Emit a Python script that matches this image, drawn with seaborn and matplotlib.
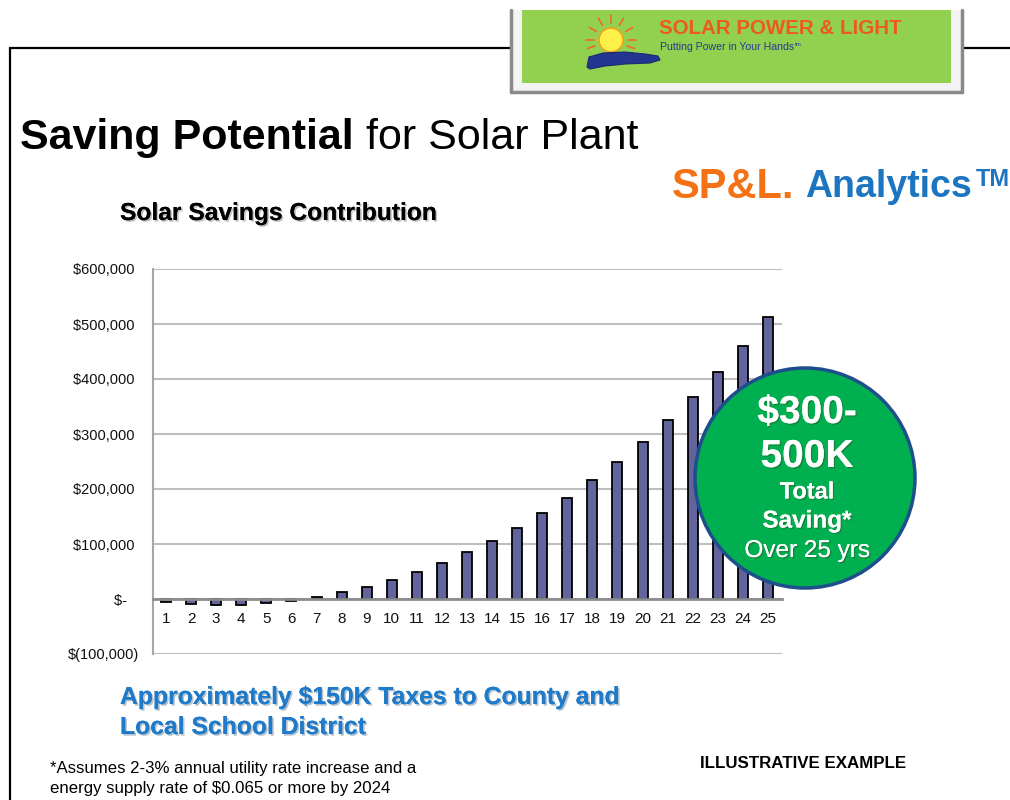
import numpy as np
import pandas as pd
import matplotlib
matplotlib.use("Agg")
import matplotlib.pyplot as plt
import matplotlib.patheffects as pe
from matplotlib.patches import Rectangle, Circle, Polygon
from matplotlib.lines import Line2D
import seaborn as sns

# ---------------- data ----------------
years = [str(i) for i in range(1, 26)]
savings = [-5000, -9000, -10000, -10000, -7000, -3000, 3000, 12000, 22000, 35000,
           50000, 65000, 85000, 105000, 130000, 156000, 184000, 216000, 250000, 286000,
           325000, 368000, 413000, 460000, 512000]
ytick_values = [-100000, 0, 100000, 200000, 300000, 400000, 500000, 600000]
ytick_labels = ["$(100,000)", "$-   ", "$100,000 ", "$200,000 ", "$300,000 ",
                "$400,000 ", "$500,000 ", "$600,000 "]

title_bold = "Saving Potential"
title_regular = " for Solar Plant"
chart_title = "Solar Savings Contribution"
badge_lines = ["$300-", "500K", "Total", "Saving*", "Over 25 yrs"]
tax_lines = ["Approximately $150K Taxes to County and", "Local School District"]
foot_lines = ["*Assumes 2-3% annual utility rate increase and a",
              "energy supply rate of $0.065 or more by 2024"]

# ---------------- style ----------------
sns.set_style("white")
plt.rcParams["font.family"] = ["Liberation Sans", "DejaVu Sans"]

W, H = 1010, 800
fig = plt.figure(figsize=(W / 100, H / 100), dpi=100)
fig.patch.set_facecolor("white")


def fx(x):
    return x / W


def fy(y):
    return 1 - y / H


# ---------------- axes ----------------
ax = fig.add_axes([fx(153), fy(654), (782 - 153) / W, (654 - 269) / H])
df = pd.DataFrame({"year": years, "saving": savings})
sns.barplot(data=df, x="year", y="saving", color="#62649c", saturation=1,
            edgecolor="black", linewidth=1.3, width=0.4, ax=ax, zorder=3)
ax.set_ylim(-100000, 600000)
ax.set_xlim(-0.52, 24.56)
ax.set_yticks(ytick_values)
ax.set_yticklabels(ytick_labels, fontsize=10.5, color="#111111")
ax.set_xlabel("")
ax.set_ylabel("")
ax.grid(axis="y", color="#BEBEBE", linewidth=1.5, zorder=0)
ax.grid(axis="x", visible=False)
ax.set_axisbelow(True)
for s in ["top", "right"]:
    ax.spines[s].set_visible(False)
ax.spines["left"].set_color("#A6A6A6")
ax.spines["left"].set_linewidth(1.5)
ax.spines["bottom"].set_position(("data", 0))
ax.spines["bottom"].set_color("#8C8C8C")
ax.spines["bottom"].set_linewidth(2)
ax.spines["bottom"].set_zorder(4)
ax.tick_params(axis="x", length=0, pad=9.5, labelsize=11, labelcolor="#111111")
ax.tick_params(axis="y", length=0, pad=10)
ax.set_facecolor("white")

# ---------------- slide frame ----------------
fig.add_artist(Line2D([fx(10), fx(512)], [fy(48), fy(48)], color="black", lw=1.6))
fig.add_artist(Line2D([fx(960), fx(1010)], [fy(48), fy(48)], color="black", lw=1.6))
fig.add_artist(Line2D([fx(10), fx(10)], [fy(48), fy(800)], color="black", lw=1.6))

# ---------------- logo box ----------------
fig.add_artist(Rectangle((fx(511), fy(92)), (962 - 511) / W, (92 - 10) / H,
                         facecolor="#F3F3F3", edgecolor="none", zorder=2))
for (x0, y0, x1, y1) in [(511, 10, 511, 92), (962, 10, 962, 92), (511, 92, 962, 92)]:
    fig.add_artist(Line2D([fx(x0), fx(x1)], [fy(y0), fy(y1)], color="#8A8A8A", lw=2.5, zorder=3))
fig.add_artist(Rectangle((fx(522), fy(83)), (951 - 522) / W, (83 - 10) / H,
                         facecolor="#92D050", edgecolor="none", zorder=3))
# sun
for ang in np.deg2rad([90, 120, 150, 180, 30, 60, 0, -20, 200]):
    r0, r1 = 17, 25
    fig.add_artist(Line2D([fx(611 + r0 * np.cos(ang)), fx(611 + r1 * np.cos(ang))],
                          [fy(40 - r0 * np.sin(ang)), fy(40 - r1 * np.sin(ang))],
                          color="#F26A21", lw=1.2, zorder=4))
fig.add_artist(Circle((6.11, 8.0 - 0.40), 0.12, transform=fig.dpi_scale_trans,
                      facecolor="#FFF04A", edgecolor="#F2A21E", lw=1.2, zorder=4))
hand = [(587, 67), (589, 57), (603, 53), (625, 52), (645, 54), (658, 56), (660, 60),
        (650, 63), (625, 64), (605, 66), (590, 69)]
fig.add_artist(Polygon([(fx(x), fy(y)) for x, y in hand], closed=True,
                       facecolor="#24358F", edgecolor="#1A2A70", lw=0.8, zorder=5))
fig.text(fx(659), fy(29), "SOLAR POWER & LIGHT", fontsize=14.8, fontweight="bold",
         color="#EE5A1E", ha="left", va="center", zorder=6)

fig.canvas.draw()
renderer = fig.canvas.get_renderer()

tag = fig.text(fx(660), fy(47), "Putting Power in Your Hands", fontsize=7.6,
               color="#2B3A8C", ha="left", va="center", zorder=6)
bb = tag.get_window_extent(renderer)
fig.text(bb.x1 / W + 1 / W, fy(44), "tm", fontsize=4.5, color="#2B3A8C",
         ha="left", va="center", zorder=6)

# ---------------- titles ----------------
t1 = fig.text(fx(20), fy(138), title_bold, fontsize=31, fontweight="bold",
              color="black", ha="left", va="center")
bb = t1.get_window_extent(renderer)
fig.text(bb.x1 / W, fy(138), title_regular, fontsize=31, color="black",
         ha="left", va="center")

shadow = [pe.withSimplePatchShadow(offset=(1.2, -1.2), shadow_rgbFace="#9a9a9a", alpha=0.6),
          pe.Normal()]
fig.text(fx(120), fy(213), chart_title, fontsize=17.7, fontweight="bold",
         color="black", ha="left", va="center", path_effects=shadow)

s1 = fig.text(fx(672), fy(187), "SP&L.", fontsize=30, fontweight="bold",
              color="#F47216", ha="left", va="center")
bb = s1.get_window_extent(renderer)
s2 = fig.text(bb.x1 / W + 11 / W, fy(187), "Analytics", fontsize=27, fontweight="bold",
              color="#1C75C0", ha="left", va="center")
bb = s2.get_window_extent(renderer)
fig.text(bb.x1 / W + 3 / W, fy(180), "TM", fontsize=17, fontweight="bold",
         color="#1C75C0", ha="left", va="center")

# ---------------- badge ----------------
fig.add_artist(Circle((8.05, 8.0 - 4.78), 1.10, transform=fig.dpi_scale_trans,
                      facecolor="#00B050", edgecolor="#1F4E8C", lw=2.5, zorder=10))
badge_y = [413, 457, 492, 521, 551]
badge_size = [28, 28, 17, 17.5, 17.5]
badge_weight = ["bold", "bold", "bold", "bold", "normal"]
wshadow = [pe.withSimplePatchShadow(offset=(1, -1), shadow_rgbFace="#2a5a2a", alpha=0.5),
           pe.Normal()]
for txt, yy, sz, wt in zip(badge_lines, badge_y, badge_size, badge_weight):
    fig.text(fx(807), fy(yy), txt, fontsize=sz, fontweight=wt, color="white",
             ha="center", va="center", zorder=11, path_effects=wshadow)

# ---------------- bottom texts ----------------
bshadow = [pe.withSimplePatchShadow(offset=(1.2, -1.2), shadow_rgbFace="#8a9aaa", alpha=0.6),
           pe.Normal()]
for txt, yy in zip(tax_lines, [697, 727]):
    fig.text(fx(120), fy(yy), txt, fontsize=17.8, fontweight="bold", color="#1F7BC9",
             ha="left", va="center", path_effects=bshadow)
for txt, yy in zip(foot_lines, [768, 788]):
    fig.text(fx(50), fy(yy), txt, fontsize=12.1, color="black", ha="left", va="center")
fig.text(fx(700), fy(763), "ILLUSTRATIVE EXAMPLE", fontsize=12.2, fontweight="bold",
         color="black", ha="left", va="center")

fig.savefig("out.png", dpi=100, facecolor="white")
